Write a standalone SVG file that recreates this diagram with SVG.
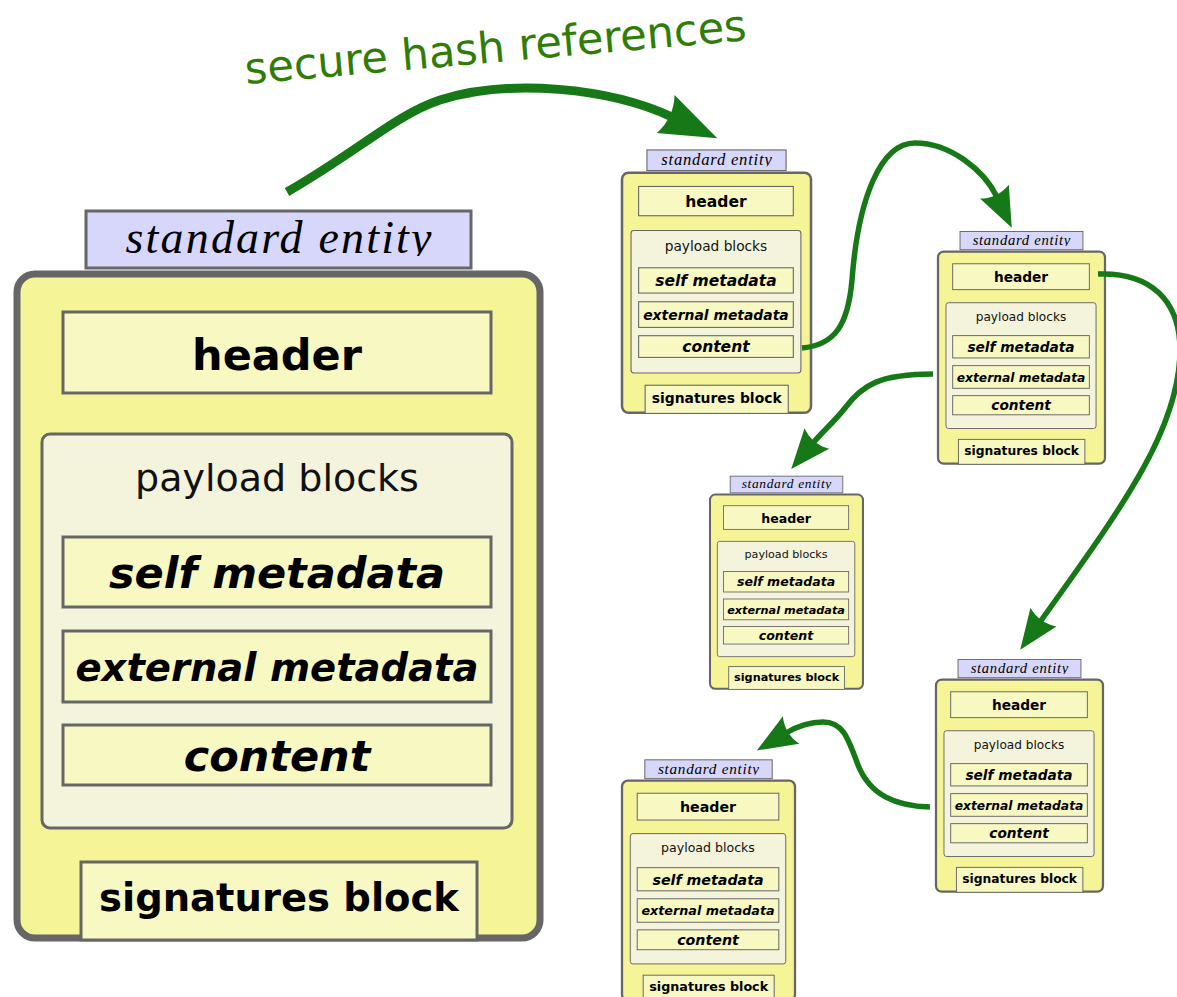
<svg xmlns="http://www.w3.org/2000/svg" width="1177" height="997" viewBox="0 0 1177 997">
  <style>
    .box { fill: #f5f597; stroke: #666666; stroke-width: 7; }
    .tag { fill: #d7d7fb; stroke: #666666; stroke-width: 3; }
    .fld { fill: #f8f8c2; stroke: #666666; stroke-width: 3; }
    .pay { fill: #f4f4dc; stroke: #666666; stroke-width: 3; }
    .tagtxt { font-family: "Liberation Serif", serif; font-style: italic; font-size: 46px; fill: #000; text-anchor: middle; }
    .b { font-family: "DejaVu Sans", sans-serif; font-weight: bold; font-size: 43px; fill: #000; text-anchor: middle; }
    .bi { font-family: "DejaVu Sans", sans-serif; font-weight: bold; font-style: oblique; font-size: 43px; fill: #000; text-anchor: middle; }
    .sm { font-size: 38.5px; }
    .p { font-family: "DejaVu Sans", sans-serif; font-size: 38px; fill: #111; text-anchor: middle; }
    .title { font-family: "DejaVu Sans", sans-serif; font-size: 43.2px; fill: #2f7d06; }
    .link { fill: none; stroke: #177817; stroke-linecap: butt; }
    .head { fill: #177817; }
  </style>
  <defs>
    <!-- the entity name is cut off by its tag box just below the baseline -->
    <clipPath id="tagclip" clipPathUnits="userSpaceOnUse">
      <rect x="86" y="211" width="385" height="45"/>
    </clipPath>
    <marker id="headBig" markerUnits="userSpaceOnUse" refX="7" refY="0" orient="auto" overflow="visible" markerWidth="60" markerHeight="44">
      <path class="head" d="M0,-21 L57,0 L0,21 C6,8 6,-8 0,-21 Z"/>
    </marker>
    <marker id="headSmall" markerUnits="userSpaceOnUse" refX="6" refY="0" orient="auto" overflow="visible" markerWidth="42" markerHeight="34">
      <path class="head" d="M0,-16 L40,0 L0,16 C5,6 5,-6 0,-16 Z"/>
    </marker>
  </defs>

  <text class="title" x="246" y="84" transform="rotate(-5 246 84)">secure hash references</text>

  <!-- large entity -->
  <g id="entity-main">
    <rect class="box" x="17" y="274" width="523" height="664" rx="18"/>
    <rect class="tag" x="86" y="211" width="385" height="57"/>
    <text class="tagtxt" x="278.5" y="253" clip-path="url(#tagclip)" textLength="306">standard entity</text>
    <rect class="fld" x="63" y="312" width="428" height="81"/>
    <text class="b" x="277" y="370">header</text>
    <rect class="pay" x="42" y="434" width="470" height="394" rx="8"/>
    <text class="p" x="277" y="491">payload blocks</text>
    <rect class="fld" x="63" y="537" width="428" height="70"/>
    <text class="bi" x="277" y="588">self metadata</text>
    <rect class="fld" x="63" y="631" width="428" height="71"/>
    <text class="bi sm" x="277" y="681">external metadata</text>
    <rect class="fld" x="63" y="725" width="428" height="60"/>
    <text class="bi" x="277" y="771">content</text>
    <rect class="fld" x="81" y="862" width="396" height="78"/>
    <text class="b sm" x="279" y="911">signatures block</text>
  </g>

  <!-- referenced entities: same layout, scaled -->
  <g id="entity-1" transform="matrix(0.3614 0 0 0.3614 615.86 73.7)">
    <rect class="box" x="17" y="274" width="523" height="664" rx="18"/>
    <rect class="tag" x="86" y="211" width="385" height="57"/>
    <text class="tagtxt" x="278.5" y="253" clip-path="url(#tagclip)" textLength="306">standard entity</text>
    <rect class="fld" x="63" y="312" width="428" height="81"/>
    <text class="b" x="277" y="370">header</text>
    <rect class="pay" x="42" y="434" width="470" height="394" rx="8"/>
    <text class="p" x="277" y="491">payload blocks</text>
    <rect class="fld" x="63" y="537" width="428" height="70"/>
    <text class="bi" x="277" y="588">self metadata</text>
    <rect class="fld" x="63" y="631" width="428" height="71"/>
    <text class="bi sm" x="277" y="681">external metadata</text>
    <rect class="fld" x="63" y="725" width="428" height="60"/>
    <text class="bi" x="277" y="771">content</text>
    <rect class="fld" x="81" y="862" width="396" height="78"/>
    <text class="b sm" x="279" y="911">signatures block</text>
  </g>

  <g id="entity-2" transform="matrix(0.3193 0 0 0.3193 932.57 164.15)">
    <rect class="box" x="17" y="274" width="523" height="664" rx="18"/>
    <rect class="tag" x="86" y="211" width="385" height="57"/>
    <text class="tagtxt" x="278.5" y="253" clip-path="url(#tagclip)" textLength="306">standard entity</text>
    <rect class="fld" x="63" y="312" width="428" height="81"/>
    <text class="b" x="277" y="370">header</text>
    <rect class="pay" x="42" y="434" width="470" height="394" rx="8"/>
    <text class="p" x="277" y="491">payload blocks</text>
    <rect class="fld" x="63" y="537" width="428" height="70"/>
    <text class="bi" x="277" y="588">self metadata</text>
    <rect class="fld" x="63" y="631" width="428" height="71"/>
    <text class="bi sm" x="277" y="681">external metadata</text>
    <rect class="fld" x="63" y="725" width="428" height="60"/>
    <text class="bi" x="277" y="771">content</text>
    <rect class="fld" x="81" y="862" width="396" height="78"/>
    <text class="b sm" x="279" y="911">signatures block</text>
  </g>

  <g id="entity-3" transform="matrix(0.2925 0 0 0.2925 705.03 414.44)">
    <rect class="box" x="17" y="274" width="523" height="664" rx="18"/>
    <rect class="tag" x="86" y="211" width="385" height="57"/>
    <text class="tagtxt" x="278.5" y="253" clip-path="url(#tagclip)" textLength="306">standard entity</text>
    <rect class="fld" x="63" y="312" width="428" height="81"/>
    <text class="b" x="277" y="370">header</text>
    <rect class="pay" x="42" y="434" width="470" height="394" rx="8"/>
    <text class="p" x="277" y="491">payload blocks</text>
    <rect class="fld" x="63" y="537" width="428" height="70"/>
    <text class="bi" x="277" y="588">self metadata</text>
    <rect class="fld" x="63" y="631" width="428" height="71"/>
    <text class="bi sm" x="277" y="681">external metadata</text>
    <rect class="fld" x="63" y="725" width="428" height="60"/>
    <text class="bi" x="277" y="771">content</text>
    <rect class="fld" x="81" y="862" width="396" height="78"/>
    <text class="b sm" x="279" y="911">signatures block</text>
  </g>

  <g id="entity-4" transform="matrix(0.3193 0 0 0.3193 930.57 592.15)">
    <rect class="box" x="17" y="274" width="523" height="664" rx="18"/>
    <rect class="tag" x="86" y="211" width="385" height="57"/>
    <text class="tagtxt" x="278.5" y="253" clip-path="url(#tagclip)" textLength="306">standard entity</text>
    <rect class="fld" x="63" y="312" width="428" height="81"/>
    <text class="b" x="277" y="370">header</text>
    <rect class="pay" x="42" y="434" width="470" height="394" rx="8"/>
    <text class="p" x="277" y="491">payload blocks</text>
    <rect class="fld" x="63" y="537" width="428" height="70"/>
    <text class="bi" x="277" y="588">self metadata</text>
    <rect class="fld" x="63" y="631" width="428" height="71"/>
    <text class="bi sm" x="277" y="681">external metadata</text>
    <rect class="fld" x="63" y="725" width="428" height="60"/>
    <text class="bi" x="277" y="771">content</text>
    <rect class="fld" x="81" y="862" width="396" height="78"/>
    <text class="b sm" x="279" y="911">signatures block</text>
  </g>

  <g id="entity-5" transform="matrix(0.3308 0 0 0.3308 616.38 690.03)">
    <rect class="box" x="17" y="274" width="523" height="664" rx="18"/>
    <rect class="tag" x="86" y="211" width="385" height="57"/>
    <text class="tagtxt" x="278.5" y="253" clip-path="url(#tagclip)" textLength="306">standard entity</text>
    <rect class="fld" x="63" y="312" width="428" height="81"/>
    <text class="b" x="277" y="370">header</text>
    <rect class="pay" x="42" y="434" width="470" height="394" rx="8"/>
    <text class="p" x="277" y="491">payload blocks</text>
    <rect class="fld" x="63" y="537" width="428" height="70"/>
    <text class="bi" x="277" y="588">self metadata</text>
    <rect class="fld" x="63" y="631" width="428" height="71"/>
    <text class="bi sm" x="277" y="681">external metadata</text>
    <rect class="fld" x="63" y="725" width="428" height="60"/>
    <text class="bi" x="277" y="771">content</text>
    <rect class="fld" x="81" y="862" width="396" height="78"/>
    <text class="b sm" x="279" y="911">signatures block</text>
  </g>

  <!-- hash reference connectors -->
  <g id="connectors">
    <path class="link" stroke-width="9" marker-end="url(#headBig)" d="M287,192 C360,150 395,115 440,100 C510,78 610,88 672,117"/>
    <path class="link" stroke-width="5.5" marker-end="url(#headSmall)" d="M802,348 C835,345 848,325 852,280 C858,200 880,143 915,143 C950,143 984,170 997,197"/>
    <path class="link" stroke-width="5.5" marker-end="url(#headSmall)" d="M933,374 C880,374 862,385 845,408 C835,421 823,431 813,443"/>
    <path class="link" stroke-width="5.5" marker-end="url(#headSmall)" d="M1098,274 C1150,272 1180,300 1180,350 C1180,430 1120,510 1040,622"/>
    <path class="link" stroke-width="5.5" marker-end="url(#headSmall)" d="M930,807 C895,806 870,795 858,765 C848,738 843,722 823,722 C808,722 796,727 786,733"/>
  </g>
</svg>
